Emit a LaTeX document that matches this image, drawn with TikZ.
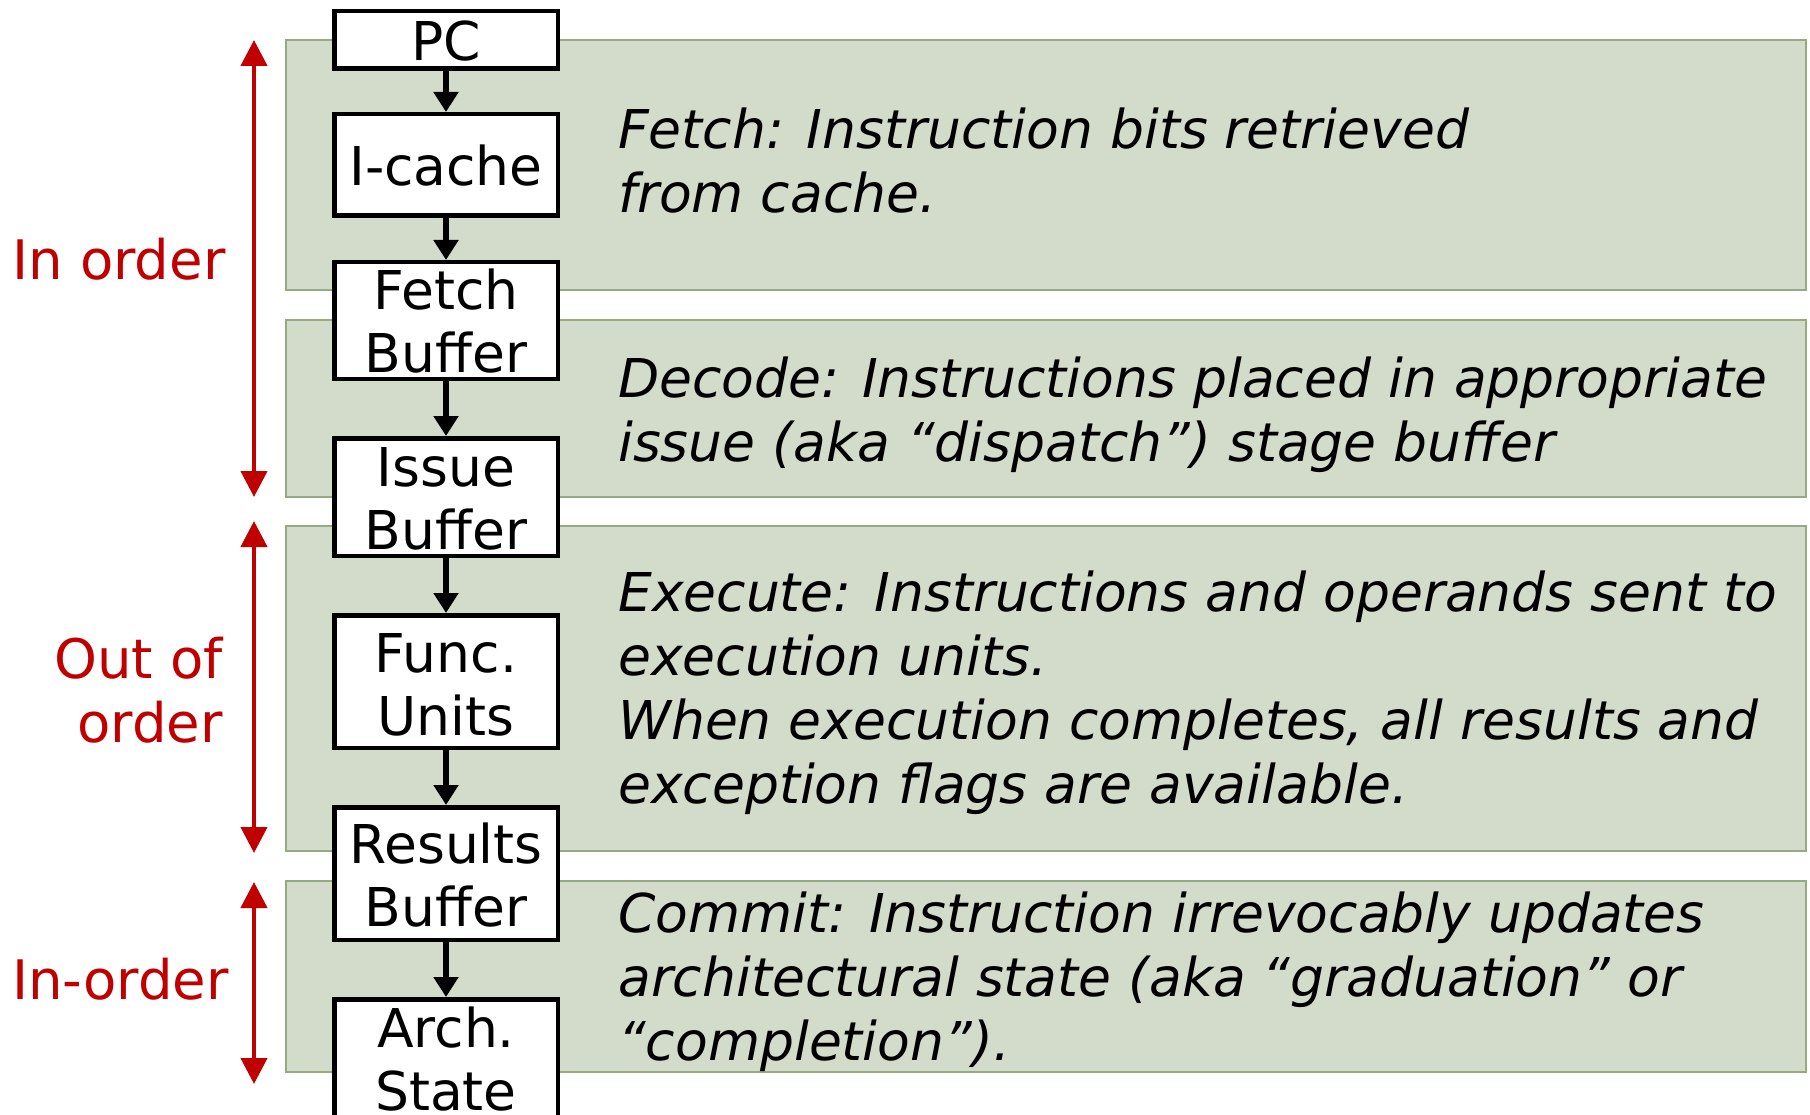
\documentclass[tikz,border=0pt]{standalone}
\usepackage{fontspec}
\setmainfont{DejaVu Sans}
\usetikzlibrary{arrows.meta}
\definecolor{grnfill}{RGB}{211,220,203}
\definecolor{grnline}{RGB}{150,170,128}
\definecolor{darkred}{RGB}{192,0,0}
\begin{document}
\begin{tikzpicture}[x=1pt,y=-1pt,
  stage/.style={draw=grnline, fill=grnfill, line width=1.5pt},
  blk/.style={draw=black, fill=white, line width=4.5pt, minimum width=223.5pt, inner sep=0pt},
  blbl/.style={font=\fontsize{53.5}{63}\selectfont, inner sep=0pt, anchor=base, align=center},
  desc/.style={font=\fontsize{53.5}{64}\selectfont\itshape, inner sep=0pt, anchor=base west, align=left},
  side/.style={font=\fontsize{54.5}{64}\selectfont, text=darkred, inner sep=0pt},
  flow/.style={line width=6.5pt, -{Triangle[width=24pt,length=20pt]}},
  rangearr/.style={draw=darkred, line width=4.2pt, {Triangle[width=26pt,length=26pt]}-{Triangle[width=26pt,length=26pt]}}
]
\useasboundingbox (0,0) rectangle (1810,1115);
\fill[white] (0,0) rectangle (1810,1115);
% stage bands
\draw[stage] (286,40) rectangle (1806,290);
\draw[stage] (286,320) rectangle (1806,497);
\draw[stage] (286,526) rectangle (1806,851);
\draw[stage] (286,881) rectangle (1806,1072);
% descriptions (anchor = baseline of last line)
\node[desc] (dfetch) at (618,213) {Fetch: Instruction bits retrieved\\from cache.};
\node[desc] (ddecode) at (618,461) {Decode: Instructions placed in appropriate\\issue (aka “dispatch”) stage buffer};
\node[desc] (dexec) at (618,803) {Execute: Instructions and operands sent to\\execution units.\\When execution completes, all results and\\exception flags are available.};
\node[desc] (dcommit) at (618,1060) {Commit: Instruction irrevocably updates\\architectural state (aka “graduation” or\\“completion”).};
% pipeline boxes
\node[blk, minimum height=57.5pt] (pc) at (446,40) {};
\node[blk, minimum height=101.5pt] (icache) at (446,165) {};
\node[blk, minimum height=116.5pt] (fbuf) at (446,320.5) {};
\node[blk, minimum height=117.5pt] (ibuf) at (446,497) {};
\node[blk, minimum height=132.5pt] (func) at (446,681.5) {};
\node[blk, minimum height=132.5pt] (rbuf) at (446,873.5) {};
\node[blk, minimum height=132.5pt] (arch) at (446,1065.5) {};
\node[blbl] (lpc) at (446,61) {PC};
\node[blbl] (licache) at (446,186) {I-cache};
\node[blbl] (lfbuf) at (446,372) {Fetch\\Buffer};
\node[blbl] (libuf) at (446,549) {Issue\\Buffer};
\node[blbl] (lfunc) at (446,735) {Func.\\Units};
\node[blbl] (lrbuf) at (446,926) {Results\\Buffer};
\node[blbl] (larch) at (446,1110) {Arch.\\State};
% flow arrows
\draw[flow] (pc.south) -- (icache.north);
\draw[flow] (icache.south) -- (fbuf.north);
\draw[flow] (fbuf.south) -- (ibuf.north);
\draw[flow] (ibuf.south) -- (func.north);
\draw[flow] (func.south) -- (rbuf.north);
\draw[flow] (rbuf.south) -- (arch.north);
% order ranges
\coordinate (r1t) at (254,40);
\coordinate (r1b) at (254,497);
\coordinate (r2t) at (254,521);
\coordinate (r2b) at (254,853);
\coordinate (r3t) at (254,882);
\coordinate (r3b) at (254,1084);
\draw[rangearr] (r1t) -- (r1b);
\draw[rangearr] (r2t) -- (r2b);
\draw[rangearr] (r3t) -- (r3b);
\node[side, anchor=base west] (inorder1) at (12,280) {In order};
\node[side, anchor=base east, align=right] (ooo) at (223,742) {Out of\\order};
\node[side, anchor=base west] (inorder2) at (12,999) {In-order};
\end{tikzpicture}
\end{document}
